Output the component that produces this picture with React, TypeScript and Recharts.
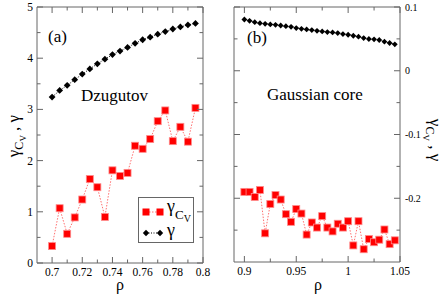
import { Legend, Line, LineChart, XAxis, YAxis } from "recharts";

// panel (a): Dzugutov
const rhoA = [
  0.7, 0.705, 0.71, 0.715, 0.72, 0.725, 0.73, 0.735, 0.74, 0.745, 0.75, 0.755,
  0.76, 0.765, 0.77, 0.775, 0.78, 0.785, 0.79, 0.795,
];
const gammaA = [
  3.24, 3.37, 3.47, 3.58, 3.69, 3.79, 3.89, 3.98, 4.07, 4.14, 4.21, 4.29, 4.36,
  4.41, 4.47, 4.52, 4.57, 4.61, 4.65, 4.68,
];
const gammaCvA = [
  0.33, 1.07, 0.57, 0.89, 1.24, 1.64, 1.48, 0.9, 1.81, 1.7, 1.76, 2.29, 2.23,
  2.42, 2.77, 2.98, 2.38, 2.66, 2.37, 3.03,
];

// panel (b): Gaussian core
const rhoB = [
  0.9, 0.905, 0.91, 0.915, 0.92, 0.925, 0.93, 0.935, 0.94, 0.945, 0.95, 0.955,
  0.96, 0.965, 0.97, 0.975, 0.98, 0.985, 0.99, 0.995, 1.0, 1.005, 1.01, 1.015,
  1.02, 1.025, 1.03, 1.035, 1.04, 1.045,
];
const gammaB = [
  0.0804, 0.0783, 0.0762, 0.0746, 0.0736, 0.0726, 0.0721, 0.071, 0.07, 0.0689,
  0.0669, 0.0658, 0.0648, 0.0638, 0.0627, 0.0617, 0.0607, 0.0601, 0.0591,
  0.0575, 0.0565, 0.0549, 0.0534, 0.0513, 0.0498, 0.0493, 0.0482, 0.0456,
  0.0435, 0.0415,
];
const gammaCvB = [
  -0.19, -0.19, -0.198, -0.187, -0.255, -0.209, -0.195, -0.202, -0.225, -0.237,
  -0.217, -0.224, -0.257, -0.238, -0.246, -0.228, -0.246, -0.252, -0.24,
  -0.246, -0.236, -0.274, -0.236, -0.28, -0.264, -0.269, -0.265, -0.249,
  -0.272, -0.266,
];

// ticks
const xMajorA = [0.7, 0.72, 0.74, 0.76, 0.78, 0.8];
const xMinorA = [0.71, 0.73, 0.75, 0.77, 0.79];
const yMajorA = [0, 1, 2, 3, 4, 5];
const yMinorA = [0.5, 1.5, 2.5, 3.5, 4.5];
const xMajorB = [0.9, 0.95, 1, 1.05];
const xMinorB = [0.925, 0.975, 1.025];
const yMajorB = [-0.2, -0.1, 0, 0.1];
const yMinorB = [-0.25, -0.15, -0.05, 0.05];

const SERIF = '"Liberation Serif", "Times New Roman", serif';
const AXIS = "#666";
const RED = "#ff0000";
const txt = { fontFamily: SERIF };

const toPoints = (xs: number[], ys: number[]) =>
  xs.map((x, i) => ({ x, y: ys[i] }));

const makeTick =
  (side: string, major: number[], showLabel: boolean, fontSize = 11.5) =>
  (props: any) => {
    const { x, y, payload } = props;
    const v = payload.value;
    const isMajor = major.some((m) => Math.abs(m - v) < 1e-9);
    const len = isMajor ? 6 : 3.5;
    let line;
    let label = null;
    if (side === "bottom") {
      line = <line x1={x} y1={y} x2={x} y2={y - len} stroke={AXIS} />;
      if (showLabel && isMajor)
        label = (
          <text x={x} y={y + 12.5} textAnchor="middle" fontSize={fontSize} style={txt} fill="#000">
            {String(v)}
          </text>
        );
    } else if (side === "top") {
      line = <line x1={x} y1={y} x2={x} y2={y + len} stroke={AXIS} />;
    } else if (side === "left") {
      line = <line x1={x} y1={y} x2={x + len} y2={y} stroke={AXIS} />;
      if (showLabel && isMajor)
        label = (
          <text x={x - 4} y={y + 4} textAnchor="end" fontSize={fontSize} style={txt} fill="#000">
            {String(v)}
          </text>
        );
    } else {
      line = <line x1={x} y1={y} x2={x - len} y2={y} stroke={AXIS} />;
      if (showLabel && isMajor)
        label = (
          <text x={x + 5} y={y + 3.5} textAnchor="start" fontSize={fontSize} style={txt} fill="#000">
            {String(v)}
          </text>
        );
    }
    return (
      <g>
        {line}
        {label}
      </g>
    );
  };

const squareDot = (props: any) => {
  const { cx, cy, key } = props;
  return (
    <rect key={key} x={cx - 3.5} y={cy - 3.5} width={7} height={7} fill={RED} stroke="#ff8a8a" strokeWidth={0.8} />
  );
};

const diamondDot = (r: number) => (props: any) => {
  const { cx, cy, key } = props;
  return (
    <path key={key} d={`M${cx},${cy - r}L${cx + r},${cy}L${cx},${cy + r}L${cx - r},${cy}Z`} fill="#000" />
  );
};

const renderLegend = () => (
  <svg width={57} height={47} style={{ display: "block", fontFamily: SERIF }}>
    <rect x={0.5} y={0.5} width={55} height={45} fill="#fff" stroke={AXIS} />
    <line x1={8} y1={15} x2={22} y2={15} stroke="#ff7070" strokeDasharray="1.5 1.5" />
    <rect x={4.5} y={11.5} width={7} height={7} fill={RED} />
    <rect x={18.5} y={11.5} width={7} height={7} fill={RED} />
    <text x={29} y={15} fontSize={18}>
      γ<tspan fontSize={13} dy={7}>C</tspan>
      <tspan fontSize={10} dy={3}>V</tspan>
    </text>
    <line x1={8} y1={36} x2={22} y2={36} stroke="#000" strokeDasharray="1 1.5" />
    <path d="M8,32.8L11.2,36L8,39.2L4.8,36Z" fill="#000" />
    <path d="M22,32.8L25.2,36L22,39.2L18.8,36Z" fill="#000" />
    <text x={29} y={39} fontSize={18}>
      γ
    </text>
  </svg>
);

const YTitle = ({ x, y, angle }: { x: number; y: number; angle: number }) => (
  <text transform={`translate(${x},${y}) rotate(${angle})`} textAnchor="middle" fontSize={17} style={txt}>
    γ<tspan fontSize={12} dy={4}>C</tspan>
    <tspan fontSize={9} dy={3}>V</tspan>
    <tspan fontSize={17} dy={-7}>
      {" , γ"}
    </tspan>
  </text>
);

export default function App() {
  const ticksXA = [...xMajorA, ...xMinorA];
  const ticksYA = [...yMajorA, ...yMinorA];
  const ticksXB = [...xMajorB, ...xMinorB];
  const ticksYB = [...yMajorB, ...yMinorB];

  return (
    <div style={{ position: "absolute", left: 0, top: 0, width: 447, height: 296, background: "#fff" }}>
      <div style={{ position: "absolute", left: 0, top: 0 }}>
        <LineChart width={215} height={296} margin={{ top: 0, right: 0, bottom: 0, left: 0 }}>
          <XAxis xAxisId="b" dataKey="x" type="number" domain={[0.69, 0.8]} ticks={ticksXA} interval={0}
            orientation="bottom" height={33} tickSize={0} tickMargin={0} tickLine={false}
            axisLine={{ stroke: AXIS }} tick={makeTick("bottom", xMajorA, true)} allowDataOverflow />
          <XAxis xAxisId="t" dataKey="x" type="number" domain={[0.69, 0.8]} ticks={ticksXA} interval={0}
            orientation="top" height={7} tickSize={0} tickMargin={0} tickLine={false}
            axisLine={{ stroke: AXIS }} tick={makeTick("top", xMajorA, false)} allowDataOverflow />
          <YAxis yAxisId="l" type="number" domain={[0, 5]} ticks={ticksYA} interval={0} width={37}
            orientation="left" tickSize={0} tickMargin={0} tickLine={false} axisLine={{ stroke: AXIS }}
            tick={makeTick("left", yMajorA, true)} allowDataOverflow />
          <YAxis yAxisId="r" type="number" domain={[0, 5]} ticks={ticksYA} interval={0} width={12}
            orientation="right" tickSize={0} tickMargin={0} tickLine={false} axisLine={{ stroke: AXIS }}
            tick={makeTick("right", yMajorA, false)} allowDataOverflow />
          <Line xAxisId="b" yAxisId="l" data={toPoints(rhoA, gammaA)} dataKey="y" name="γ" stroke="#000"
            strokeDasharray="1 1.5" strokeWidth={1} dot={diamondDot(3.4)} activeDot={false} isAnimationActive={false} />
          <Line xAxisId="b" yAxisId="l" data={toPoints(rhoA, gammaCvA)} dataKey="y" name="γCv" stroke="#ff7070"
            strokeDasharray="1.5 1.5" strokeWidth={1} dot={squareDot} activeDot={false} isAnimationActive={false} />
          <Legend content={renderLegend} layout="horizontal" verticalAlign="middle" align="center"
            wrapperStyle={{ position: "absolute", left: 138, top: 197, width: 57, height: 47 }} />
        </LineChart>
      </div>
      <div style={{ position: "absolute", left: 222, top: 0 }}>
        <LineChart width={225} height={296} margin={{ top: 0, right: 0, bottom: 0, left: 0 }}>
          <XAxis xAxisId="b" dataKey="x" type="number" domain={[0.89, 1.05]} ticks={ticksXB} interval={0}
            orientation="bottom" height={34} tickSize={0} tickMargin={0} tickLine={false}
            axisLine={{ stroke: AXIS }} tick={makeTick("bottom", xMajorB, true)} allowDataOverflow />
          <XAxis xAxisId="t" dataKey="x" type="number" domain={[0.89, 1.05]} ticks={ticksXB} interval={0}
            orientation="top" height={7} tickSize={0} tickMargin={0} tickLine={false}
            axisLine={{ stroke: AXIS }} tick={makeTick("top", xMajorB, false)} allowDataOverflow />
          <YAxis yAxisId="l" type="number" domain={[-0.3, 0.1]} ticks={ticksYB} interval={0} width={12}
            orientation="left" tickSize={0} tickMargin={0} tickLine={false} axisLine={{ stroke: AXIS }}
            tick={makeTick("left", yMajorB, false)} allowDataOverflow />
          <YAxis yAxisId="r" type="number" domain={[-0.3, 0.1]} ticks={ticksYB} interval={0} width={47}
            orientation="right" tickSize={0} tickMargin={0} tickLine={false} axisLine={{ stroke: AXIS }}
            tick={makeTick("right", yMajorB, true, 10)} allowDataOverflow />
          <Line xAxisId="b" yAxisId="r" data={toPoints(rhoB, gammaB)} dataKey="y" name="γ" stroke="#000"
            strokeDasharray="1 1.5" strokeWidth={1} dot={diamondDot(2.9)} activeDot={false} isAnimationActive={false} />
          <Line xAxisId="b" yAxisId="r" data={toPoints(rhoB, gammaCvB)} dataKey="y" name="γCv" stroke="#ff7070"
            strokeDasharray="1.5 1.5" strokeWidth={1} dot={squareDot} activeDot={false} isAnimationActive={false} />
        </LineChart>
      </div>
      <svg width={447} height={296} style={{ position: "absolute", left: 0, top: 0, pointerEvents: "none", fontFamily: SERIF }}>
        <g fill="#000" style={txt}>
          <text x={48} y={42} fontSize={17}>(a)</text>
          <text x={81} y={101} fontSize={17}>Dzugutov</text>
          <text x={247} y={43} fontSize={17}>(b)</text>
          <text x={267} y={100} fontSize={17}>Gaussian core</text>
          <text x={120} y={290} fontSize={16} textAnchor="middle">ρ</text>
          <text x={318} y={290} fontSize={16} textAnchor="middle">ρ</text>
        </g>
        <YTitle x={19} y={136} angle={-90} />
        <YTitle x={430} y={140} angle={90} />
      </svg>
    </div>
  );
}
